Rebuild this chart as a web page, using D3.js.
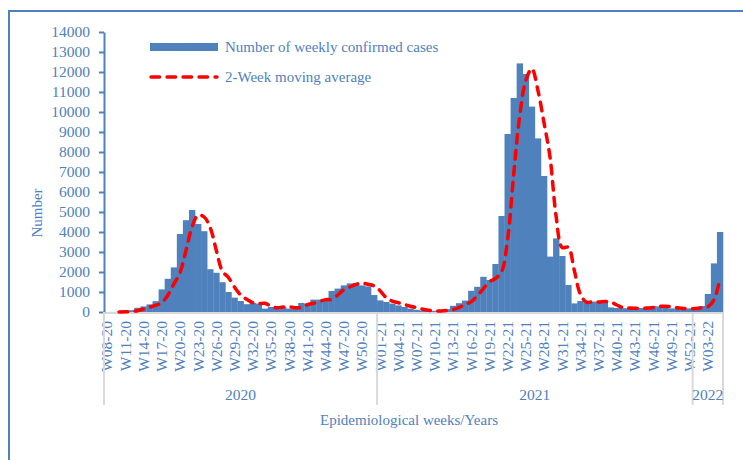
<!DOCTYPE html>
<html>
<head>
<meta charset="utf-8">
<script src="https://cdn.jsdelivr.net/npm/d3@7"></script>
<style>
  body { margin: 0; background: #fff; }
  text { font-family: "Liberation Serif", "Times New Roman", serif; fill: #4f81bd; }
</style>
</head>
<body>
<div id="chart"></div>
<script>
// year blocks on the x axis: [year label, first week, last week, suffix]
var yearSpans = [["2020", 8, 52, "20"], ["2021", 1, 52, "21"], ["2022", 1, 5, "22"]];

// weekly confirmed cases, W08-20 ... W05-22
var cases2020 = [0, 5, 15, 40, 90, 210, 280, 380, 540, 1130, 1660, 2230, 3900, 4590, 5100, 4400,
    4040, 2140, 1960, 1490, 1000, 720, 550, 390, 450, 420, 170, 250, 250, 260, 170, 280,
    450, 420, 620, 620, 640, 1050, 1170, 1330, 1430, 1450, 1330, 1280, 850];
var cases2021 = [580, 500, 420, 330, 250, 170, 110, 70, 50, 60, 90, 140, 310, 440, 570, 1060,
    1260, 1760, 1600, 2400, 4800, 8900, 10700, 12430, 11900, 10270, 8680, 6800, 2770, 3680, 2800, 1350,
    430, 550, 470, 520, 520, 470, 230, 200, 190, 180, 190, 200, 260, 300, 280, 240,
    180, 170, 160, 180];
var cases2022 = [220, 300, 900, 2430, 4000];

// 2-week moving average as drawn (red dashed line), same weeks
var avg2020 = [null, null, 0, 10, 28, 65, 150, 245, 330, 460, 835, 1395, 1945, 3065, 4245, 4845,
    4750, 4220, 3090, 2050, 1725, 1245, 860, 635, 470, 420, 435, 295, 210, 250, 255, 215,
    225, 365, 435, 520, 620, 630, 845, 1110, 1250, 1380, 1440, 1390, 1305];
var avg2021 = [1065, 715, 540, 460, 375, 290, 210, 140, 90, 60, 55, 75, 115, 225, 375, 505,
    815, 1160, 1510, 1680, 2000, 3600, 6850, 9800, 11565, 12165, 11085, 9475, 7740, 4785, 3225, 3240,
    2075, 890, 490, 510, 495, 520, 495, 350, 215, 195, 185, 185, 195, 230, 280, 290,
    260, 210, 175, 165];
var avg2022 = [170, 200, 260, 600, 1665];

var yTicks = d3.range(0, 14001, 1000);

(function () {
    // build one list of weeks
    var weeks = [];
    yearSpans.forEach(function (s) {
        d3.range(s[1], s[2] + 1).forEach(function (w) {
            weeks.push({ label: "W" + (w < 10 ? "0" + w : w) + "-" + s[3], year: s[0] });
        });
    });
    var cases = cases2020.concat(cases2021, cases2022);
    var avg = avg2020.concat(avg2021, avg2022);
    weeks.forEach(function (d, i) { d.cases = cases[i]; d.avg = avg[i]; });

    var width = 743, height = 460;
    var plotLeft = 104, plotRight = 723, plotTop = 32, plotBottom = 312;
    var blue = "#4f81bd";

    var svg = d3.select("#chart").append("svg")
        .attr("width", width)
        .attr("height", height);

    // outer frame
    svg.append("rect")
        .attr("x", 9).attr("y", 11)
        .attr("width", 760).attr("height", 470)
        .attr("fill", "none")
        .attr("stroke", blue)
        .attr("stroke-width", 2);

    var x = d3.scaleBand()
        .domain(weeks.map(function (d) { return d.label; }))
        .range([plotLeft, plotRight])
        .padding(0);

    var y = d3.scaleLinear()
        .domain([0, 14000])
        .range([plotBottom, plotTop]);

    // bars
    svg.append("g")
        .selectAll("rect")
        .data(weeks)
        .enter()
        .append("rect")
        .attr("x", function (d) { return x(d.label); })
        .attr("y", function (d) { return y(d.cases); })
        .attr("width", x.bandwidth() + 0.3)
        .attr("height", function (d) { return plotBottom - y(d.cases); })
        .attr("fill", blue);

    // x axis line
    svg.append("line")
        .attr("x1", plotLeft).attr("x2", plotRight)
        .attr("y1", plotBottom + 1).attr("y2", plotBottom + 1)
        .attr("stroke", "#d9d9d9")
        .attr("stroke-width", 2);

    // y axis, plain numbers (no thousands separator)
    var yAxis = svg.append("g")
        .attr("transform", "translate(" + plotLeft + ",0)")
        .call(d3.axisLeft(y).tickValues(yTicks).tickFormat(d3.format("d"))
            .tickSize(5).tickSizeOuter(0).tickPadding(9));
    yAxis.select(".domain").attr("stroke", blue).attr("stroke-width", 2);
    yAxis.selectAll(".tick line").attr("stroke", blue).attr("stroke-width", 2);
    yAxis.selectAll(".tick text")
        .attr("fill", blue)
        .style("font-size", "15.5px")
        .style("font-family", "Liberation Serif");

    // week labels every third week, rotated
    svg.append("g")
        .selectAll("text")
        .data(weeks.filter(function (d, i) { return i % 3 === 0; }))
        .enter()
        .append("text")
        .attr("transform", function (d) {
            return "translate(" + (x(d.label) + x.bandwidth() / 2) + "," + (plotBottom + 9) + ") rotate(-90)";
        })
        .attr("dy", "0.35em")
        .attr("text-anchor", "end")
        .style("font-size", "15.5px")
        .text(function (d) { return d.label; });

    // year groups: separators and labels
    var spans = yearSpans.map(function (s) {
        var w = weeks.filter(function (d) { return d.year === s[0]; });
        var x0 = x(w[0].label), x1 = x(w[w.length - 1].label) + x.bandwidth();
        return { year: s[0], x0: x0, x1: x1 };
    });
    var seps = [spans[0].x0].concat(spans.map(function (s) { return s.x1; }));
    svg.selectAll(".sep")
        .data(seps)
        .enter()
        .append("line")
        .attr("x1", function (d) { return d; }).attr("x2", function (d) { return d; })
        .attr("y1", plotBottom).attr("y2", 405)
        .attr("stroke", "#d9d9d9")
        .attr("stroke-width", 2);
    svg.selectAll(".year")
        .data(spans)
        .enter()
        .append("text")
        .attr("x", function (d) { return (d.x0 + d.x1) / 2; })
        .attr("y", 400)
        .attr("text-anchor", "middle")
        .style("font-size", "15.5px")
        .text(function (d) { return d.year; });

    // moving average line
    var line = d3.line()
        .defined(function (d) { return d.avg !== null; })
        .x(function (d) { return x(d.label) + x.bandwidth() / 2; })
        .y(function (d) { return y(d.avg); })
        .curve(d3.curveCatmullRom.alpha(0.5));
    svg.append("path")
        .datum(weeks)
        .attr("d", line)
        .attr("fill", "none")
        .attr("stroke", "#ff0000")
        .attr("stroke-width", 3.5)
        .attr("stroke-linecap", "round")
        .attr("stroke-dasharray", "8.5 7.5");

    // axis titles
    svg.append("text")
        .attr("transform", "translate(42,213) rotate(-90)")
        .attr("text-anchor", "middle")
        .style("font-size", "15px")
        .text("Number");
    svg.append("text")
        .attr("x", 409).attr("y", 425)
        .attr("text-anchor", "middle")
        .style("font-size", "15px")
        .text("Epidemiological weeks/Years");

    // legend
    var legend = svg.append("g");
    legend.append("rect")
        .attr("x", 150).attr("y", 43)
        .attr("width", 68).attr("height", 8)
        .attr("fill", blue);
    legend.append("text")
        .attr("x", 225).attr("y", 52)
        .style("font-size", "15px")
        .text("Number of weekly confirmed cases");
    legend.append("line")
        .attr("x1", 151).attr("x2", 217)
        .attr("y1", 77).attr("y2", 77)
        .attr("stroke", "#ff0000")
        .attr("stroke-width", 3.5)
        .attr("stroke-linecap", "round")
        .attr("stroke-dasharray", "8.5 7.5");
    legend.append("text")
        .attr("x", 225).attr("y", 82)
        .style("font-size", "15px")
        .text("2-Week moving average");
})();
</script>
</body>
</html>
